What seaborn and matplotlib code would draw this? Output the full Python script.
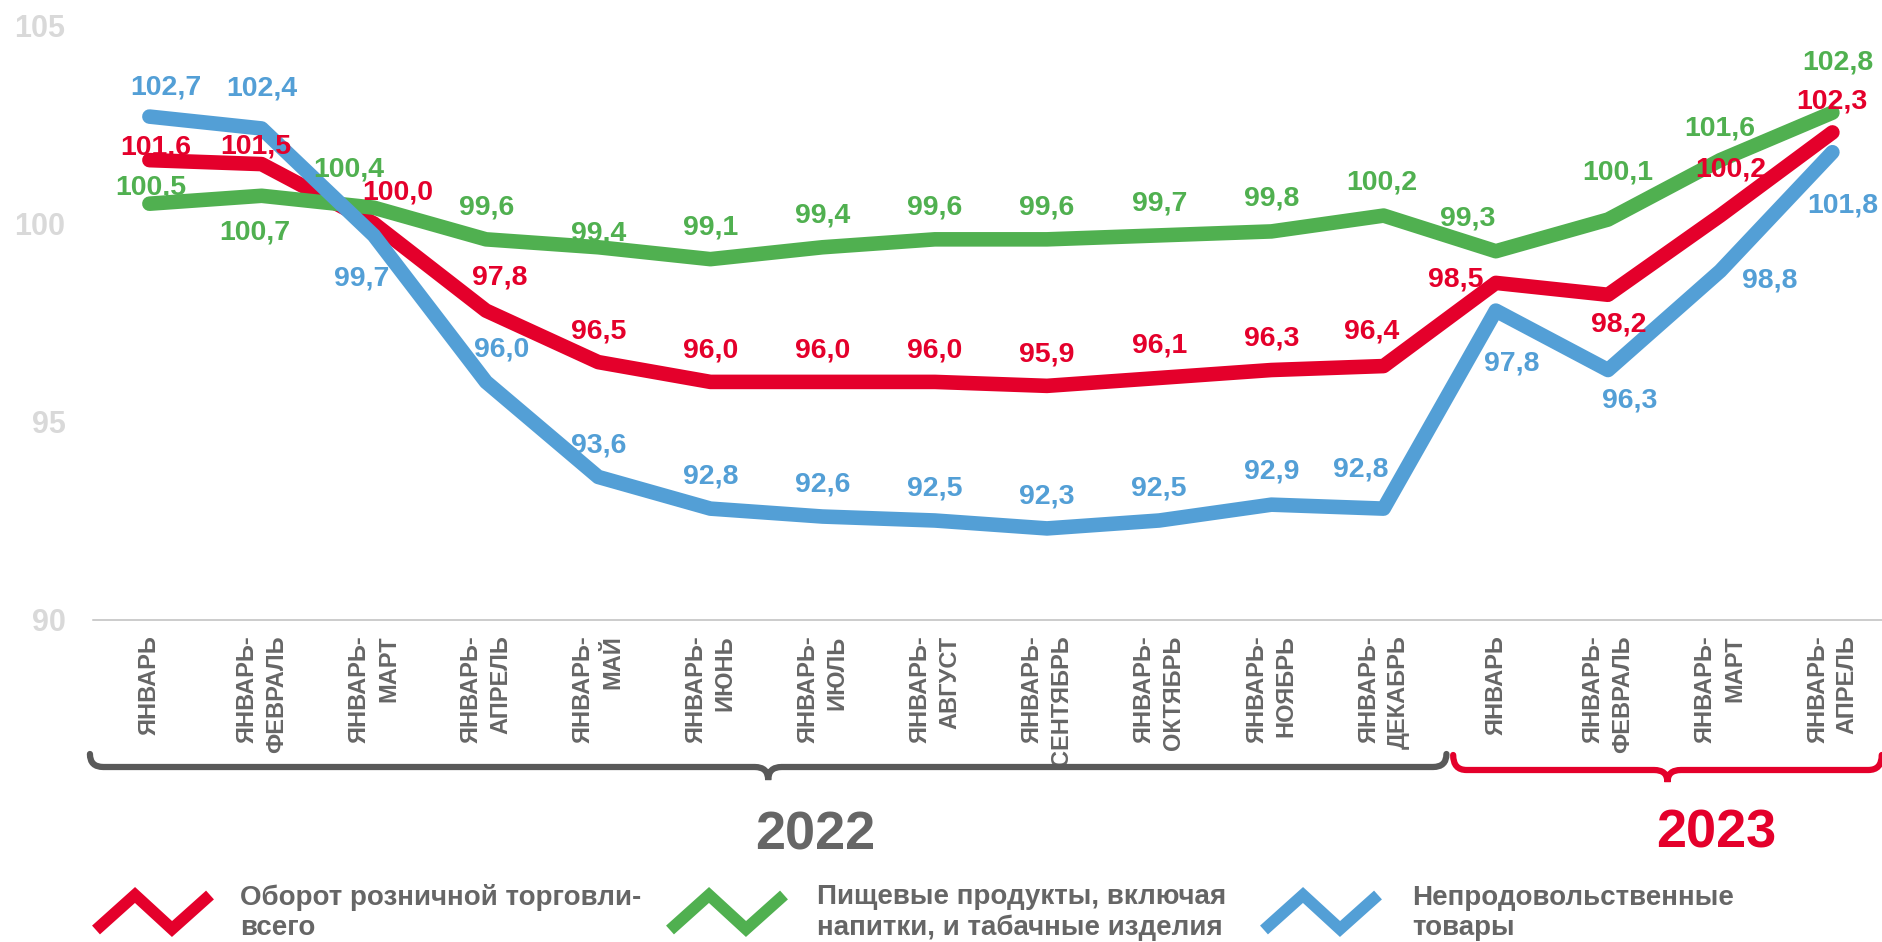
import numpy as np
import pandas as pd
import matplotlib.pyplot as plt
import matplotlib.transforms as mtransforms
from matplotlib.lines import Line2D
from matplotlib.path import Path
from matplotlib.patches import PathPatch
import seaborn as sns

# periods on the x axis (cumulative since January)
periods = ['ЯНВАРЬ', 'ЯНВАРЬ-\nФЕВРАЛЬ', 'ЯНВАРЬ-\nМАРТ', 'ЯНВАРЬ-\nАПРЕЛЬ', 'ЯНВАРЬ-\nМАЙ',
           'ЯНВАРЬ-\nИЮНЬ', 'ЯНВАРЬ-\nИЮЛЬ', 'ЯНВАРЬ-\nАВГУСТ', 'ЯНВАРЬ-\nСЕНТЯБРЬ',
           'ЯНВАРЬ-\nОКТЯБРЬ', 'ЯНВАРЬ-\nНОЯБРЬ', 'ЯНВАРЬ-\nДЕКАБРЬ',
           'ЯНВАРЬ', 'ЯНВАРЬ-\nФЕВРАЛЬ', 'ЯНВАРЬ-\nМАРТ', 'ЯНВАРЬ-\nАПРЕЛЬ']
years = ['2022', '2023']
year_counts = [12, 4]

retail = [101.6, 101.5, 100.0, 97.8, 96.5, 96.0, 96.0, 96.0, 95.9, 96.1, 96.3, 96.4,
          98.5, 98.2, 100.2, 102.3]
food = [100.5, 100.7, 100.4, 99.6, 99.4, 99.1, 99.4, 99.6, 99.6, 99.7, 99.8, 100.2,
        99.3, 100.1, 101.6, 102.8]
nonfood = [102.7, 102.4, 99.7, 96.0, 93.6, 92.8, 92.6, 92.5, 92.3, 92.5, 92.9, 92.8,
           97.8, 96.3, 98.8, 101.8]

names = ['Оборот розничной торговли-\nвсего',
         'Пищевые продукты, включая\nнапитки, и табачные изделия',
         'Непродовольственные\nтовары']
colors = ['#E4002B', '#50B050', '#539FD6']

# label offsets (pixels, right / down) relative to each point
red_off = [(6, -16), (-6, -21), (24, -34), (14, -36), (0, -34), (0, -34), (0, -34), (0, -34),
           (0, -34), (0, -35), (0, -35), (-12, -38), (-40, -6), (11, 27), (11, -49), (-1, -34)]
green_off = [(1, -19), (-7, 34), (-25, -41), (1, -35), (0, -17), (0, -35), (0, -35), (0, -35),
             (0, -35), (0, -35), (0, -36), (-2, -36), (-28, -36), (10, -50), (0, -35), (5, -53)]
blue_off = [(16, -32), (0, -43), (-12, 40), (16, -35), (0, -34), (0, -35), (0, -35), (0, -35),
            (0, -35), (0, -35), (0, -36), (-23, -42), (16, 50), (22, 27), (50, 6), (10, 50)]

series = [retail, food, nonfood]
offsets = [red_off, green_off, blue_off]

df = pd.concat([pd.DataFrame({'idx': np.arange(len(periods)), 'value': vals, 'series': nm})
                for vals, nm in zip(series, names)], ignore_index=True)

sns.set_style('white')
plt.rcParams['font.family'] = ['Liberation Sans', 'DejaVu Sans']

W, H = 1883, 942
GRAY = '#666666'


def fx(x):
    return x / W


def fy(y):
    return 1 - y / H


fig = plt.figure(figsize=(W / 100, H / 100), dpi=100)
ax = fig.add_axes([fx(93.3), fy(619.5), 1795.2 / W, (619.5 - 25.5) / H])

sns.lineplot(data=df, x='idx', y='value', hue='series', hue_order=names,
             palette=dict(zip(names, colors)), linewidth=10.5, errorbar=None,
             sort=False, legend=False, ax=ax,
             solid_capstyle='round', solid_joinstyle='round')

ax.set_xlim(-0.5, len(periods) - 0.5)
ax.set_ylim(90, 105)
sns.despine(ax=ax, left=True)
ax.spines['bottom'].set_color('#bfbfbf')
ax.spines['bottom'].set_linewidth(1.1)
ax.set_xlabel('')
ax.set_ylabel('')

ax.set_yticks([90, 95, 100, 105])
ax.set_yticklabels(['90', '95', '100', '105'], fontsize=22, fontweight='bold', color='#d9d9d9')
ax.tick_params(axis='y', length=0, pad=20)

ax.set_xticks(np.arange(-0.5, len(periods), 1))
ax.set_xticklabels([])
ax.tick_params(axis='x', which='major', length=4.3, width=1.1, color='#bfbfbf', direction='out')
ax.set_xticks(np.arange(len(periods)), minor=True)
ax.set_xticklabels(periods, minor=True, rotation=90, fontsize=17, fontweight='bold',
                   color=GRAY, ha='center', va='top', multialignment='right', linespacing=1.35)
ax.tick_params(axis='x', which='minor', length=0, pad=11.5)

# data labels
for vals, offs, col in zip(series, offsets, colors):
    for i, (v, (dx, dy)) in enumerate(zip(vals, offs)):
        ax.annotate(f'{v:.1f}'.replace('.', ','), (i, v), xytext=(dx * 0.72, -(dy + 10) * 0.72),
                    textcoords='offset points', ha='center', va='baseline',
                    fontsize=20.5, fontweight='bold', color=col, zorder=5)


# year braces under the axis
def brace(x0, x1, ytop, yline, ytip, color):
    trans = mtransforms.blended_transform_factory(ax.transData, fig.transFigure)
    r = 0.12
    xm = (x0 + x1) / 2
    verts = [(x0, fy(ytop)), (x0, fy(yline)), (x0 + r, fy(yline)),
             (xm - r, fy(yline)), (xm, fy(yline)), (xm, fy(ytip)),
             (xm, fy(yline)), (xm + r, fy(yline)),
             (x1 - r, fy(yline)), (x1, fy(yline)), (x1, fy(ytop))]
    codes = [Path.MOVETO, Path.CURVE3, Path.CURVE3, Path.LINETO, Path.CURVE3, Path.CURVE3,
             Path.CURVE3, Path.CURVE3, Path.LINETO, Path.CURVE3, Path.CURVE3]
    fig.add_artist(PathPatch(Path(verts, codes), fill=False, lw=4.5, ec=color,
                             transform=trans, clip_on=False, capstyle='round'))


brace(-0.53, 11.56, 754, 767, 780, '#595959')
brace(11.62, 15.44, 755, 770, 782, colors[0])

fig.text(fx(815), fy(850), years[0], fontsize=39, fontweight='bold', color=GRAY, ha='center',
         va='baseline')
fig.text(fx(1716), fy(848), years[1], fontsize=39, fontweight='bold', color=colors[0],
         ha='center', va='baseline')

# legend with zigzag glyphs (text baseline given for the last line)
icon_left = [93, 667, 1261]
text_left = [240, 817, 1412]
zx = [3, 42, 79, 117]
zy = [930, 895, 929, 895]
for il, tl, nm, col in zip(icon_left, text_left, names, colors):
    fig.add_artist(Line2D([fx(il + x) for x in zx], [fy(y) for y in zy], transform=fig.transFigure,
                          color=col, lw=8.5, solid_joinstyle='miter', solid_capstyle='butt'))
    fig.text(fx(tl), fy(935), nm, fontsize=20, fontweight='bold', color=GRAY, ha='left',
             va='baseline', linespacing=1.22)

fig.savefig('out.png', dpi=100, facecolor='white')
